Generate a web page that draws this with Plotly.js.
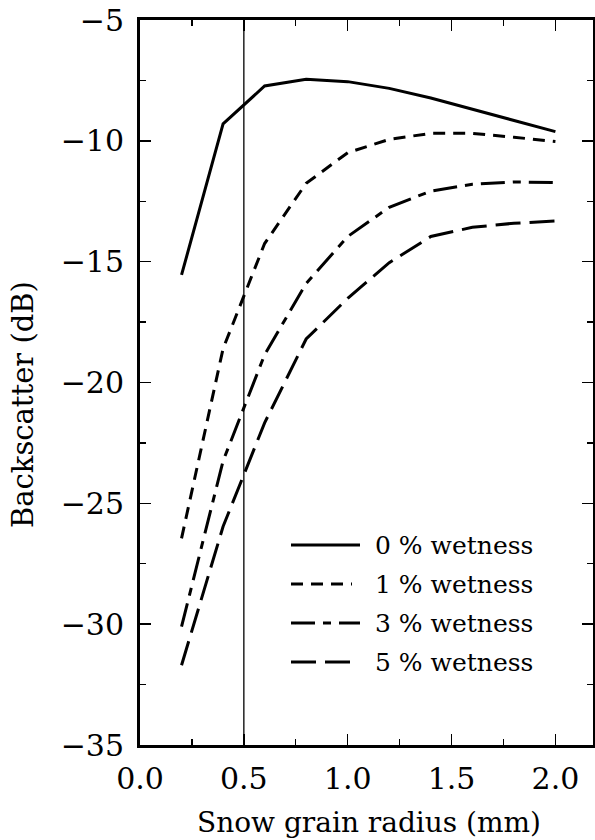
<!DOCTYPE html>
<html>
<head>
<meta charset="utf-8">
<script src="https://cdn.plot.ly/plotly-3.0.1.min.js"></script>
<style>
html,body{margin:0;padding:0;background:#fff;}
#chart{width:595px;height:840px;}
</style>
</head>
<body>
<div id="chart"></div>
<script>
// Data
var grainRadius = [0.2, 0.4, 0.6, 0.8, 1.0, 1.2, 1.4, 1.6, 1.8, 2.0];
var wet0 = [-15.55, -9.3, -7.73, -7.45, -7.55, -7.83, -8.23, -8.69, -9.18, -9.62];
var wet1 = [-26.45, -18.6, -14.25, -11.76, -10.49, -9.94, -9.69, -9.69, -9.85, -10.03];
var wet3 = [-30.1, -23.25, -18.85, -15.9, -13.96, -12.75, -12.08, -11.8, -11.7, -11.73];
var wet5 = [-31.7, -25.96, -21.67, -18.2, -16.52, -15.04, -13.96, -13.58, -13.41, -13.32];
var seriesNames = ["0 % wetness", "1 % wetness", "3 % wetness", "5 % wetness"];
var seriesValues = [wet0, wet1, wet3, wet5];
var refRadius = 0.5;
var xTitle = "Snow grain radius (mm)";
var yTitle = "Backscatter (dB)";

var dashes = ["solid", "12px,8px", "24px,8px,8px,8px", "25px,9px"];
var FONT = "DejaVu Serif";

var traces = seriesValues.map(function (vals, i) {
  return {
    x: grainRadius, y: vals, type: "scatter", mode: "lines",
    name: seriesNames[i], showlegend: false,
    line: {color: "#000", width: 3, dash: dashes[i]}
  };
});

// plot area geometry (px) used for manual legend placement
var L = 140, T = 20, W = 453, H = 725;
function px2x(p){ return (p - L) / W; }
function py2y(p){ return (T + H - p) / H; }

var legendRows = [545, 584, 623, 662];
var legendEnds = [360, 352, 360, 351];
var shapes = [{
  type: "line", xref: "x", yref: "paper", x0: refRadius, x1: refRadius, y0: 0, y1: 1,
  line: {color: "#000", width: 1.3}
}];
var annotations = [];
seriesNames.forEach(function (nm, i) {
  shapes.push({type: "line", xref: "paper", yref: "paper",
    x0: px2x(291), x1: px2x(legendEnds[i]), y0: py2y(legendRows[i]), y1: py2y(legendRows[i]),
    line: {color: "#000", width: 3, dash: dashes[i]}});
  annotations.push({xref: "paper", yref: "paper", x: px2x(373), y: py2y(legendRows[i]),
    xanchor: "left", yanchor: "middle", showarrow: false, text: nm,
    font: {family: FONT, size: 25, color: "#000"}});
});
annotations.push({xref: "paper", yref: "paper", x: px2x(369), y: py2y(822),
  xanchor: "center", yanchor: "middle", showarrow: false, text: xTitle,
  font: {family: FONT, size: 28, color: "#000"}});
annotations.push({xref: "paper", yref: "paper", x: px2x(23), y: py2y(405),
  xanchor: "center", yanchor: "middle", showarrow: false, text: yTitle, textangle: -90,
  font: {family: FONT, size: 29, color: "#000"}});

var layout = {
  width: 595, height: 840,
  margin: {l: L, r: 595 - L - W, t: T, b: 840 - T - H, pad: 0},
  paper_bgcolor: "#fff", plot_bgcolor: "#fff",
  showlegend: false,
  font: {family: FONT, size: 30, color: "#000"},
  xaxis: {
    range: [0, 2.181], dtick: 0.5, tick0: 0, tickformat: ".1f",
    ticks: "inside", ticklen: 11, tickwidth: 1.5, tickcolor: "#000",
    minor: {dtick: 0.25, ticks: "inside", ticklen: 6, tickwidth: 1.2, tickcolor: "#000"},
    showline: true, linewidth: 3, linecolor: "#000", mirror: "ticks",
    showgrid: false, zeroline: false, ticklabelstandoff: 5,
    tickfont: {family: FONT, size: 30, color: "#000"}
  },
  yaxis: {
    range: [-35, -5], dtick: 5, tick0: -35,
    ticks: "inside", ticklen: 11, tickwidth: 1.5, tickcolor: "#000",
    minor: {dtick: 2.5, ticks: "inside", ticklen: 6, tickwidth: 1.2, tickcolor: "#000"},
    showline: true, linewidth: 3, linecolor: "#000", mirror: "ticks",
    showgrid: false, zeroline: false, ticklabelstandoff: 7,
    tickfont: {family: FONT, size: 30, color: "#000"}
  },
  shapes: shapes,
  annotations: annotations
};

Plotly.newPlot("chart", traces, layout, {staticPlot: true, displayModeBar: false});
</script>
</body>
</html>
